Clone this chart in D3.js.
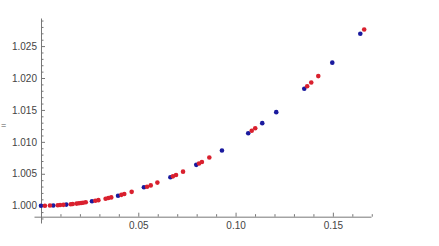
<!DOCTYPE html>
<html>
<head>
<meta charset="utf-8">
<script src="https://cdn.jsdelivr.net/npm/d3@7"></script>
<style>
  body { margin: 0; background: #fff; }
  svg { display: block; }
  .tick text { font-family: "Liberation Sans", Arial, sans-serif; font-size: 10px; fill: #444; }
  .axis path, .axis line { stroke: #777; }
</style>
</head>
<body>
<svg width="439" height="246"></svg>
<script>
// blue series
const blueX = [0, 0.0063, 0.013, 0.0262, 0.0396, 0.0529, 0.0665, 0.0798, 0.093, 0.1065, 0.1137, 0.1209, 0.1353, 0.1497, 0.1641];
const blueY = [1.0000, 1.00004, 1.00017, 1.00069, 1.00157, 1.0029, 1.00446, 1.00640, 1.00865, 1.01134, 1.01293, 1.01465, 1.01832, 1.02241, 1.02693];

// red series
const redX = [0.002, 0.0046, 0.0086, 0.0098, 0.0115, 0.0153, 0.0163, 0.0183, 0.0195, 0.0206, 0.0216, 0.023,
  0.0279, 0.0295, 0.0332, 0.0346, 0.0361, 0.0413, 0.0428, 0.0466, 0.0545, 0.0564, 0.0598, 0.0678, 0.0694,
  0.073, 0.0812, 0.0827, 0.0865, 0.1083, 0.1101, 0.1368, 0.1389, 0.1425, 0.1661];
const redY = [1.0000, 1.00002, 1.00007, 1.0001, 1.00013, 1.00023, 1.00027, 1.00033, 1.00038, 1.00042, 1.00047, 1.00053,
  1.00078, 1.00087, 1.0011, 1.0012, 1.0013, 1.0017, 1.00183, 1.00217, 1.00297, 1.00318, 1.00362, 1.0046, 1.00482,
  1.00533, 1.0066, 1.00684, 1.00755, 1.01173, 1.01212, 1.01871, 1.01929, 1.0203, 1.0276];

const xMajor = [0.05, 0.10, 0.15];
const yMajor = [1.000, 1.005, 1.010, 1.015, 1.020, 1.025];

const svg = d3.select('svg');

const x = d3.scaleLinear().domain([-0.0036, 0.1696]).range([34, 371]);
const y = d3.scaleLinear().domain([0.99729, 1.0294]).range([223, 18]);

const xMinor = d3.range(1, 18).map(i => i / 100).filter(v => !xMajor.some(m => Math.abs(m - v) < 1e-9));
const yMinor = d3.range(998, 1030).map(i => i / 1000).filter(v => !yMajor.some(m => Math.abs(m - v) < 1e-9));

const axisY0 = y(0.99828); // where the x axis crosses
const axisX0 = x(0);

// x axis
svg.append('g')
    .attr('class', 'axis')
    .attr('transform', `translate(0,${axisY0})`)
    .call(d3.axisBottom(x).tickValues(xMajor).tickSize(-4).tickSizeOuter(0).tickPadding(5)
        .tickFormat(d3.format('.2f')));

svg.append('g')
    .attr('class', 'axis')
    .attr('transform', `translate(0,${axisY0})`)
    .call(d3.axisBottom(x).tickValues(xMinor).tickSize(-2.5).tickSizeOuter(0).tickFormat(''))
    .select('.domain').remove();

// y axis
svg.append('g')
    .attr('class', 'axis')
    .attr('transform', `translate(${axisX0},0)`)
    .call(d3.axisLeft(y).tickValues(yMajor).tickSize(-4).tickSizeOuter(0).tickPadding(4)
        .tickFormat(d3.format('.3f')));

svg.append('g')
    .attr('class', 'axis')
    .attr('transform', `translate(${axisX0},0)`)
    .call(d3.axisLeft(y).tickValues(yMinor).tickSize(-2.5).tickSizeOuter(0).tickFormat(''))
    .select('.domain').remove();

// stray axis label glyph at the left
svg.append('text')
    .attr('x', 1)
    .attr('y', 128)
    .style('font-family', '"Liberation Sans", Arial, sans-serif')
    .style('font-size', '9px')
    .style('fill', '#555')
    .text('=');

const blue = blueX.map((v, i) => [v, blueY[i]]);
const red = redX.map((v, i) => [v, redY[i]]);

svg.append('g').selectAll('circle').data(blue)
    .enter().append('circle')
    .attr('cx', d => x(d[0]))
    .attr('cy', d => y(d[1]))
    .attr('r', 2.3)
    .attr('fill', '#1a1a9e');

svg.append('g').selectAll('circle').data(red)
    .enter().append('circle')
    .attr('cx', d => x(d[0]))
    .attr('cy', d => y(d[1]))
    .attr('r', 2.3)
    .attr('fill', '#d9202e');
</script>
</body>
</html>
